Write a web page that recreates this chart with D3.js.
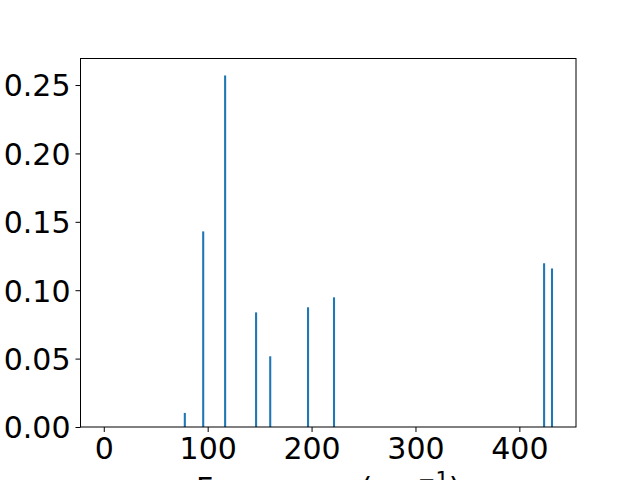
<!DOCTYPE html>
<html>
<head>
<meta charset="utf-8">
<script src="https://cdn.jsdelivr.net/npm/d3@7"></script>
<style>
  body { margin: 0; background: #fff; }
  svg { display: block; font-family: "DejaVu Sans", sans-serif; }
</style>
</head>
<body>
<div class="canvas"></div>
<script>
// mode frequencies (cm^-1) and intensities
const frequencies = [78, 95.7, 116.8, 146.6, 160.2, 196.6, 221.6, 423.8, 431.4];
const intensities = [0.0103, 0.143, 0.257, 0.0838, 0.0517, 0.0875, 0.0948, 0.1197, 0.1159];
const xTicks = [0, 100, 200, 300, 400];
const yTicks = [0, 0.05, 0.10, 0.15, 0.20, 0.25];

const dims = { width: 640, height: 480 };
const plot = { left: 80.5, right: 576, top: 58.5, bottom: 427 };
const barWidth = 2;
const fontSize = 30;

const svg = d3.select('.canvas')
    .append('svg')
    .attr('width', dims.width)
    .attr('height', dims.height);

const x = d3.scaleLinear()
    .domain([-22.4, 454.5])
    .range([plot.left, plot.right]);

const y = d3.scaleLinear()
    .domain([0, 0.2694])
    .range([plot.bottom, plot.top]);

// bars
svg.append('g')
    .selectAll('rect')
    .data(frequencies)
    .enter()
    .append('rect')
        .attr('x', d => x(d - barWidth / 2))
        .attr('width', d => x(barWidth) - x(0))
        .attr('y', (d, i) => y(intensities[i]))
        .attr('height', (d, i) => y(0) - y(intensities[i]))
        .attr('fill', '#1f77b4');

// axes
const xAxis = svg.append('g')
    .attr('transform', `translate(0, ${plot.bottom})`)
    .call(d3.axisBottom(x).tickValues(xTicks).tickFormat(d3.format('d')).tickSize(5).tickPadding(5));

const yAxis = svg.append('g')
    .attr('transform', `translate(${plot.left}, 0)`)
    .call(d3.axisLeft(y).tickValues(yTicks).tickFormat(d3.format('.2f')).tickSize(5).tickPadding(5));

[xAxis, yAxis].forEach(a => {
    a.select('.domain').remove();
    a.selectAll('line').attr('stroke', '#000').attr('stroke-width', 1);
    a.selectAll('text')
        .attr('fill', '#000')
        .style('font-family', '"DejaVu Sans", sans-serif')
        .style('font-size', fontSize + 'px');
});
yAxis.selectAll('text').attr('dy', '0.36em');
xAxis.selectAll('text').attr('dy', '0.74em');

// frame
svg.append('rect')
    .attr('x', plot.left)
    .attr('y', plot.top)
    .attr('width', plot.right - plot.left)
    .attr('height', plot.bottom - plot.top)
    .attr('fill', 'none')
    .attr('stroke', '#000')
    .attr('stroke-width', 1);

// x label (mostly cut off at the bottom)
const label = svg.append('text')
    .attr('x', (plot.left + plot.right) / 2)
    .attr('y', 499)
    .attr('text-anchor', 'middle')
    .style('font-size', fontSize + 'px')
    .attr('fill', '#000');
label.append('tspan').text('Frequency (cm');
label.append('tspan').attr('dy', -12).style('font-size', '21px').text('\u22121');
label.append('tspan').attr('dy', 12).text(')');
</script>
</body>
</html>
